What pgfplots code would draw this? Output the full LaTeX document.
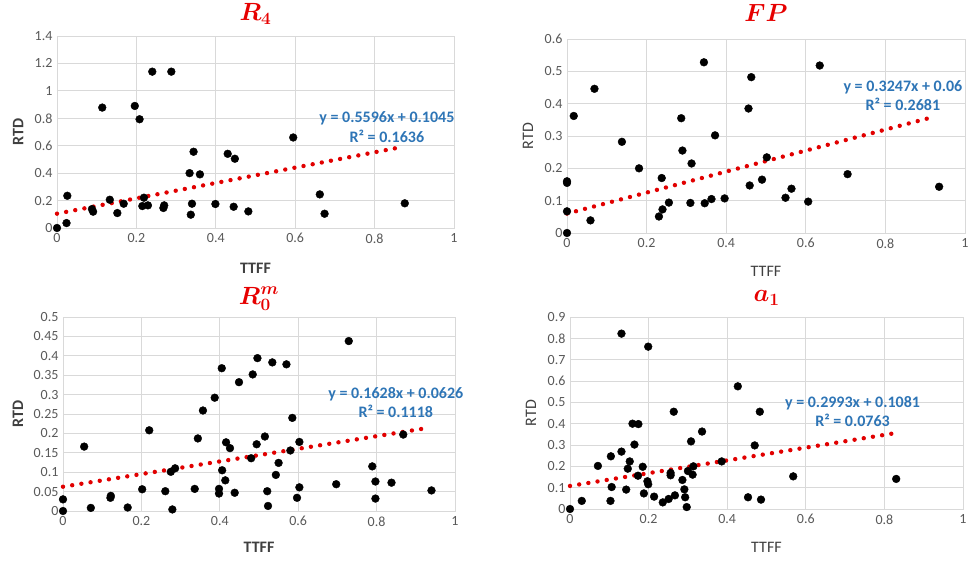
\documentclass[border=0pt]{standalone}
\usepackage{pgfplots}
\pgfplotsset{compat=1.18}
\usepackage{fontspec}
\usepackage{bm}
\setmainfont{Carlito}
\definecolor{gridgray}{RGB}{217,217,217}
\definecolor{tickgray}{RGB}{89,89,89}
\definecolor{labgray}{RGB}{64,64,64}
\definecolor{eqblue}{RGB}{46,117,182}
\definecolor{ttlred}{RGB}{230,0,0}
\definecolor{trendred}{RGB}{225,0,0}
\tikzset{eqnode/.style={align=center, font=\fontsize{16}{19.5}\selectfont\bfseries, text=eqblue}}
\pgfplotsset{
  panel/.style={
    scale only axis, clip=false,
    xmin=0, xmax=1, ymin=0,
    xtick={0,0.2,...,1},
    grid=major, major grid style={gridgray, line width=0.8pt},
    axis line style={gridgray, line width=0.8pt},
    major tick length=0pt,
    tick label style={font=\fontsize{14}{16}\selectfont, text=tickgray},
    /pgf/number format/assume math mode=true,
    /pgf/number format/fixed, /pgf/number format/precision=2,
    xticklabel style={yshift=-2pt},
    yticklabel style={xshift=-1pt},
    label style={font=\fontsize{16}{18}\selectfont, text=labgray, inner sep=0pt},
    title style={at={(0.5,1)}, anchor=base, inner sep=0pt, font=\fontsize{27}{29}\selectfont, text=ttlred},
  },
  pts/.style={only marks, mark=*, mark size=3.9pt, black, mark options={fill=black}},
  trend/.style={trendred, line width=4.4pt, line cap=round, dash pattern=on 0pt off 9.3pt},
}
\begin{document}
\begin{tikzpicture}
\path[use as bounding box] (0,0) rectangle (970pt,562pt);
% ---------- R4 ----------
\begin{axis}[panel, at={(57pt,334pt)}, anchor=south west,
  width=397pt, height=192pt, ymax=1.4, ytick={0,0.2,...,1.4},
  title={$\bm{R_4}$}, title style={yshift=9pt},
  xlabel={\bfseries TTFF}, ylabel={\bfseries RTD},
  xlabel style={at={(axis description cs:0.5,-0.208)}, anchor=center},
  ylabel style={at={(axis description cs:-0.098,0.5)}, anchor=center}]
\addplot[trend] coordinates {(0,0.1045) (0.871,0.5919)};
\addplot[pts] coordinates {
(0,0) (0.024,0.036) (0.026,0.235) (0.088,0.138) (0.091,0.119) (0.114,0.878)
(0.133,0.206) (0.152,0.109) (0.168,0.177) (0.196,0.890) (0.208,0.793)
(0.215,0.160) (0.219,0.221) (0.229,0.165) (0.240,1.140) (0.268,0.146)
(0.270,0.165) (0.288,1.140) (0.334,0.400) (0.337,0.097) (0.340,0.177)
(0.344,0.556) (0.360,0.391) (0.399,0.175) (0.430,0.541) (0.445,0.155)
(0.448,0.505) (0.482,0.121) (0.595,0.660) (0.662,0.245) (0.674,0.104)
(0.876,0.180)};
\node[eqnode] at (axis cs:0.831,0.736) {y = 0.5596x + 0.1045\\R² = 0.1636};
\end{axis}
% ---------- FP ----------
\begin{axis}[panel, at={(567pt,329pt)}, anchor=south west,
  width=398pt, height=194pt, ymax=0.6, ytick={0,0.1,...,0.6},
  title={$\bm{FP}$}, title style={yshift=12pt},
  xlabel={TTFF}, ylabel={RTD},
  xlabel style={at={(axis description cs:0.5,-0.196)}, anchor=center},
  ylabel style={at={(axis description cs:-0.098,0.5)}, anchor=center}]
\addplot[trend] coordinates {(0,0.06) (0.926,0.3607)};
\addplot[pts] coordinates {
(0,0) (0,0.067) (0,0.160) (0,0.155) (0.017,0.362) (0.059,0.039) (0.069,0.446)
(0.138,0.282) (0.181,0.200) (0.231,0.051) (0.238,0.170) (0.240,0.073)
(0.256,0.094) (0.287,0.355) (0.290,0.255) (0.310,0.093) (0.313,0.215)
(0.344,0.528) (0.346,0.092) (0.363,0.105) (0.372,0.302) (0.396,0.107)
(0.456,0.385) (0.459,0.147) (0.463,0.482) (0.490,0.165) (0.502,0.234)
(0.549,0.109) (0.564,0.137) (0.606,0.097) (0.635,0.518) (0.705,0.182)
(0.935,0.143)};
\node[eqnode] at (axis cs:0.844,0.425) {y = 0.3247x + 0.06\\R² = 0.2681};
\end{axis}
% ---------- R0m ----------
\begin{axis}[panel, at={(63pt,51pt)}, anchor=south west,
  width=392pt, height=194pt, ymax=0.5, ytick={0,0.05,...,0.5},
  title={$\bm{R_0^m}$}, title style={yshift=7pt},
  xlabel={\bfseries TTFF}, ylabel={\bfseries RTD},
  xlabel style={at={(axis description cs:0.5,-0.186)}, anchor=center},
  ylabel style={at={(axis description cs:-0.115,0.5)}, anchor=center}]
\addplot[trend] coordinates {(0,0.0626) (0.928,0.2137)};
\addplot[pts] coordinates {
(0,0) (0,0.030) (0.054,0.166) (0.071,0.008) (0.121,0.034) (0.122,0.039)
(0.165,0.009) (0.202,0.056) (0.220,0.208) (0.261,0.051) (0.275,0.101)
(0.279,0.004) (0.286,0.110) (0.336,0.057) (0.344,0.187) (0.357,0.259)
(0.387,0.292) (0.398,0.057) (0.398,0.045) (0.405,0.368) (0.406,0.105)
(0.414,0.079) (0.416,0.177) (0.426,0.162) (0.438,0.047) (0.449,0.332)
(0.480,0.136) (0.484,0.352) (0.494,0.172) (0.496,0.394) (0.515,0.192)
(0.521,0.051) (0.523,0.013) (0.534,0.383) (0.543,0.093) (0.550,0.124)
(0.570,0.378) (0.580,0.156) (0.585,0.240) (0.597,0.034) (0.603,0.178)
(0.603,0.061) (0.697,0.069) (0.729,0.438) (0.789,0.115) (0.797,0.076)
(0.797,0.032) (0.838,0.073) (0.868,0.197) (0.940,0.053)};
\node[eqnode] at (axis cs:0.849,0.2796) {y = 0.1628x + 0.0626\\R² = 0.1118};
\end{axis}
% ---------- a1 ----------
\begin{axis}[panel, at={(570pt,53pt)}, anchor=south west,
  width=393pt, height=192pt, ymax=0.9, ytick={0,0.1,...,0.9},
  title={$\bm{a_1}$}, title style={yshift=9pt},
  xlabel={TTFF}, ylabel={RTD},
  xlabel style={at={(axis description cs:0.5,-0.2)}, anchor=center},
  ylabel style={at={(axis description cs:-0.0992,0.5)}, anchor=center}]
\addplot[trend] coordinates {(0,0.1081) (0.822,0.3541)};
\addplot[pts] coordinates {
(0,0) (0.030,0.038) (0.071,0.202) (0.103,0.038) (0.104,0.247) (0.106,0.103)
(0.131,0.822) (0.131,0.269) (0.143,0.091) (0.147,0.189) (0.152,0.223)
(0.159,0.400) (0.164,0.302) (0.173,0.156) (0.174,0.398) (0.185,0.198)
(0.188,0.073) (0.197,0.130) (0.199,0.116) (0.199,0.761) (0.214,0.058)
(0.236,0.031) (0.251,0.047) (0.256,0.169) (0.256,0.158) (0.264,0.456)
(0.267,0.064) (0.286,0.136) (0.291,0.092) (0.293,0.055) (0.297,0.009)
(0.300,0.178) (0.308,0.317) (0.312,0.161) (0.314,0.200) (0.336,0.363)
(0.386,0.223) (0.427,0.575) (0.453,0.055) (0.470,0.298) (0.483,0.456)
(0.486,0.044) (0.568,0.153) (0.830,0.141)};
\node[eqnode] at (axis cs:0.719,0.457) {y = 0.2993x + 0.1081\\R² = 0.0763};
\end{axis}
\end{tikzpicture}
\end{document}
